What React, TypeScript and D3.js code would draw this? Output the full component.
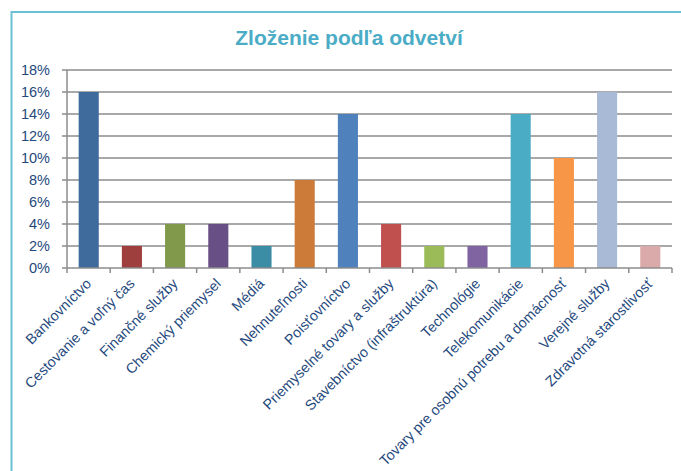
import React from 'react';
import * as d3 from 'd3';

const categories = [
  'Bankovníctvo',
  'Cestovanie a voľný čas',
  'Finančné služby',
  'Chemický priemysel',
  'Médiá',
  'Nehnuteľnosti',
  'Poisťovníctvo',
  'Priemyselné tovary a služby',
  'Stavebníctvo (infraštruktúra)',
  'Technológie',
  'Telekomunikácie',
  'Tovary pre osobnú potrebu a domácnosť',
  'Verejné služby',
  'Zdravotná starostlivosť',
];
const shares = [16, 2, 4, 4, 2, 8, 14, 4, 2, 2, 14, 10, 16, 2];
const barColors = [
  '#3E6A9C', '#9E3F3D', '#80994A', '#684F86', '#3A8DA5', '#CC7B38', '#4F81BD',
  '#C0504D', '#9BBB59', '#8064A2', '#4BACC6', '#F79646', '#A9BAD6', '#D9AAA9',
];
const yTicks = [0, 2, 4, 6, 8, 10, 12, 14, 16, 18];

export default function App() {
  const width = 681;
  const height = 471;
  const left = 67;
  const right = 672;
  const top = 70;
  const bottom = 268;

  const x = d3.scaleBand<string>()
    .domain(categories)
    .range([left, right])
    .paddingInner(0.535)
    .paddingOuter(0.27);
  const y = d3.scaleLinear().domain([0, 18]).range([bottom, top]);

  const step = (right - left) / categories.length;
  const tickXs = d3.range(categories.length + 1).map(i => left + i * step);
  const font = '"Liberation Sans", Arial, sans-serif';
  const labelColor = '#1F497D';

  return (
    <svg width={width} height={height} style={{ position: 'fixed', left: 0, top: 0, background: '#fff' }}>
      <rect x={0} y={0} width={width} height={height} fill="#fff" />
      {/* frame */}
      <path d={`M11.5,${height} L11.5,12 L${width},12`} fill="none" stroke="#6CC0D4" strokeWidth={2} />
      <text x={349} y={45} textAnchor="middle" fontFamily={font} fontWeight="bold" fontSize={21} fill="#4BACC6">
        Zloženie podľa odvetví
      </text>

      {/* gridlines */}
      {yTicks.map(t => (
        <g key={t}>
          {t > 0 && (
            <line x1={left} x2={right} y1={y(t)} y2={y(t)} stroke="#8C8C8C" strokeWidth={1.5} />
          )}
          <line x1={left - 5} x2={left} y1={y(t)} y2={y(t)} stroke="#8C8C8C" strokeWidth={1.5} />
          <text x={50} y={y(t)} dy="0.36em" textAnchor="end" fontFamily={font} fontSize={14.5} fill={labelColor}>
            {t}%
          </text>
        </g>
      ))}
      <line x1={left} x2={left} y1={top} y2={bottom} stroke="#8C8C8C" strokeWidth={1.5} />

      {/* bars */}
      {categories.map((c, i) => (
        <rect
          key={c}
          x={x(c)}
          y={y(shares[i])}
          width={x.bandwidth()}
          height={bottom - y(shares[i])}
          fill={barColors[i]}
        />
      ))}

      {/* x axis */}
      <line x1={left} x2={right} y1={bottom} y2={bottom} stroke="#8C8C8C" strokeWidth={1.5} />
      {tickXs.map((tx, i) => (
        <line key={i} x1={tx} x2={tx} y1={bottom} y2={bottom + 5} stroke="#8C8C8C" strokeWidth={1.5} />
      ))}
      {categories.map(c => {
        const cx = (x(c) as number) + x.bandwidth() / 2;
        return (
          <text
            key={c}
            transform={`translate(${cx},${bottom + 13}) rotate(-45)`}
            textAnchor="end"
            dy="0.35em"
            fontFamily={font}
            fontSize={14.3}
            fill={labelColor}
          >
            {c}
          </text>
        );
      })}
    </svg>
  );
}
